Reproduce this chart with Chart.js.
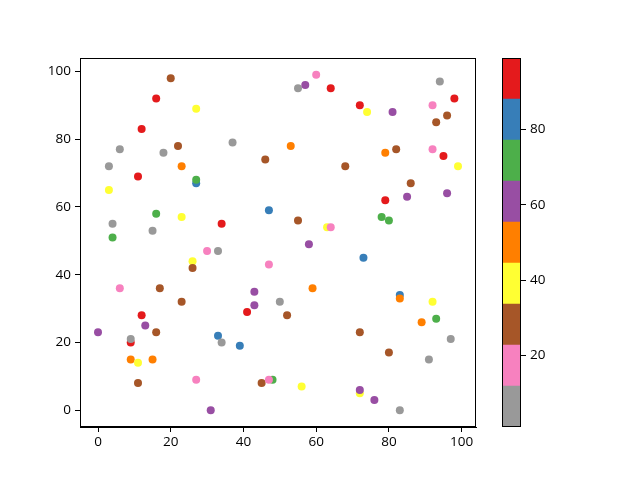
<!DOCTYPE html>
<html>
<head>
<meta charset="utf-8">
<script src="https://cdn.jsdelivr.net/npm/chart.js@4/dist/chart.umd.min.js"></script>
<style>
html,body{margin:0;padding:0;background:#fff;}
#wrap{position:relative;width:640px;height:480px;}
canvas{position:absolute;left:0;top:0;}
</style>
</head>
<body>
<div id="wrap">
<canvas id="main" width="640" height="480"></canvas>
<canvas id="cbar" width="640" height="480"></canvas>
</div>
<script>
// Data
const xs = [20,16,12,6,18,22,3,23,11,3,16,23,4,15,4,27,37,46,27,27,34,47,60,55,57,64,72,74,53,68,55,63,64,58,94,98,92,81,96,93,79,82,92,95,99,86,96,85,79,78,80,6,17,23,12,13,0,16,9,9,9,15,11,11,30,33,26,26,47,43,43,50,41,33,34,39,27,45,48,47,31,73,59,52,72,56,72,72,76,83,83,92,89,93,97,80,91,83];
const ys = [98,92,83,77,76,78,72,72,69,65,58,57,55,53,51,89,79,74,67,68,55,59,99,95,96,95,90,88,78,72,56,54,54,49,97,92,90,88,87,85,76,77,77,75,72,67,64,63,62,57,56,36,36,32,28,25,23,23,20,21,15,15,14,8,47,47,44,42,43,35,31,32,29,22,20,19,9,8,9,9,0,45,36,28,23,7,5,6,3,34,33,32,26,27,21,17,15,0];
const cs = [28,94,94,6,6,28,6,50,94,39,72,39,6,6,72,39,6,28,83,72,94,83,17,6,61,94,94,39,50,28,28,39,17,61,6,94,17,61,28,28,50,28,17,94,39,28,61,61,94,72,72,17,28,28,94,61,61,28,94,6,50,50,39,28,17,6,39,28,17,61,61,6,94,83,6,83,17,28,72,17,61,83,50,28,28,39,39,61,61,83,50,39,50,72,6,28,6,6];
const cbarTicks = [20,40,60,80];
const cMin = 1, cMax = 99;
const set1r = ['#999999','#f781bf','#a65628','#ffff33','#ff7f00','#984ea3','#4daf4a','#377eb8','#e41a1c'];

function colorOf(c){
  let i = Math.floor((c - cMin) / ((cMax - cMin) / set1r.length));
  if (i < 0) i = 0; if (i > set1r.length - 1) i = set1r.length - 1;
  return set1r[i];
}

const FONT = {family: "'Open Sans', sans-serif", size: 13.5};
const frame = {
  id: 'frame',
  afterDraw(chart){
    const a = chart.chartArea, ctx = chart.ctx;
    ctx.save();
    ctx.strokeStyle = '#000'; ctx.lineWidth = 1;
    ctx.strokeRect(Math.round(a.left)+0.5, Math.round(a.top)+0.5, Math.round(a.right-a.left)-1, Math.round(a.bottom-a.top)-1);
    ctx.restore();
  }
};

const pts = xs.map((x,i)=>({x:x, y:ys[i]}));
new Chart(document.getElementById('main'), {
  type: 'scatter',
  data: {datasets: [{
    data: pts,
    backgroundColor: cs.map(colorOf),
    borderWidth: 0,
    pointRadius: 4,
    pointHoverRadius: 4
  }]},
  options: {
    responsive: false, animation: false,
    layout: {padding: {left: 0, right: 164, top: 58, bottom: 0}},
    plugins: {legend: {display: false}, tooltip: {enabled: false}},
    scales: {
      x: {
        type: 'linear', min: -4.95, max: 103.95,
        afterBuildTicks: s => { s.ticks = [0,20,40,60,80,100].map(v=>({value:v})); },
        afterFit: s => { s.height = 53; },
        grid: {display: true, drawOnChartArea: false, tickLength: 5, color: '#000', tickColor: '#000'},
        border: {display: true, color: '#000'},
        ticks: {color: '#000', font: FONT, padding: 2, maxRotation: 0}
      },
      y: {
        type: 'linear', min: -4.95, max: 103.95,
        afterBuildTicks: s => { s.ticks = [0,20,40,60,80,100].map(v=>({value:v})); },
        afterFit: s => { s.width = 80; },
        grid: {display: true, drawOnChartArea: false, tickLength: 5, color: '#000', tickColor: '#000'},
        border: {display: true, color: '#000'},
        ticks: {color: '#000', font: FONT, padding: 4}
      }
    }
  },
  plugins: [frame]
});

// Colorbar
const step = (cMax - cMin) / set1r.length;
const cbDatasets = set1r.map((col,i)=>({
  data: [[cMin + i*step, cMin + (i+1)*step]],
  backgroundColor: col,
  borderWidth: 0,
  grouped: false,
  barPercentage: 1,
  categoryPercentage: 1
}));
new Chart(document.getElementById('cbar'), {
  type: 'bar',
  data: {labels: [''], datasets: cbDatasets},
  options: {
    responsive: false, animation: false,
    layout: {padding: {left: 502, right: 79, top: 58, bottom: 53}},
    plugins: {legend: {display: false}, tooltip: {enabled: false}},
    scales: {
      x: {display: false},
      y: {
        position: 'right', min: cMin, max: cMax,
        afterBuildTicks: s => { s.ticks = cbarTicks.map(v=>({value:v})); },
        afterFit: s => { s.width = 40; },
        grid: {display: true, drawOnChartArea: false, tickLength: 5, color: '#000', tickColor: '#000'},
        border: {display: false},
        ticks: {color: '#000', font: FONT, padding: 4}
      }
    }
  },
  plugins: [frame]
});
</script>
</body>
</html>
